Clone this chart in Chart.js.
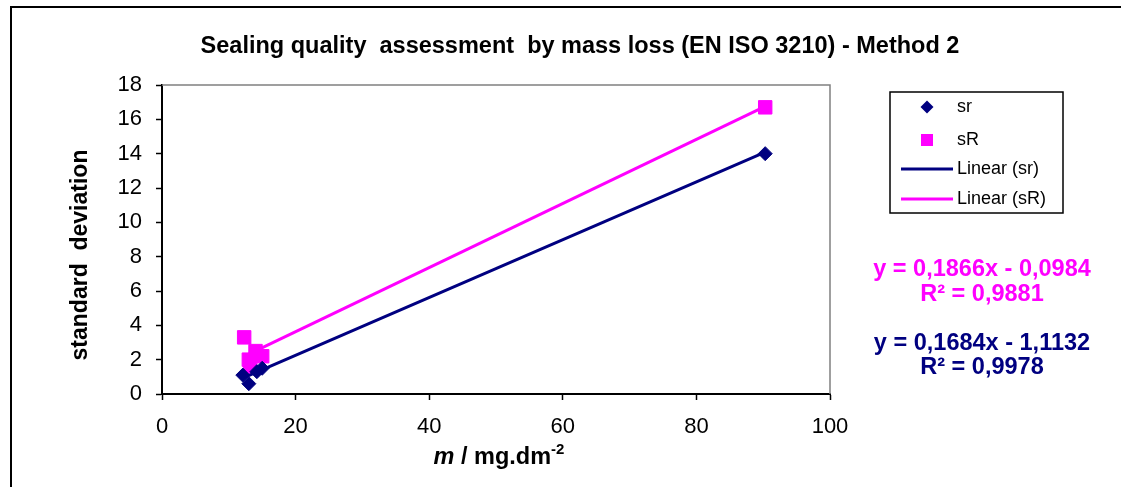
<!DOCTYPE html>
<html>
<head>
<meta charset="utf-8">
<script src="https://cdn.jsdelivr.net/npm/chart.js@4.4.0/dist/chart.umd.min.js"></script>
<style>
  html, body { margin: 0; padding: 0; background: #fff; }
  #wrap { position: relative; width: 1121px; height: 487px; }
</style>
</head>
<body>
<div id="wrap"><canvas id="chart"></canvas></div>
<script>
// measured points: repeatability (sr) and reproducibility (sR)
const srX = [12.1, 13.0, 14.2, 15.0, 90.3];
const srY = [1.1, 0.6, 1.3, 1.5, 14.0];
const sRX = [12.3, 13.0, 13.2, 14.0, 15.0, 90.3];
const sRY = [3.3, 2.0, 1.6, 2.5, 2.2, 16.7];

// linear trendlines, coefficients as printed
const srFit = { slope: 0.1684, intercept: -1.1132, eq: 'y = 0,1684x - 1,1132', r2: 'R\u00b2 = 0,9978' };
const sRFit = { slope: 0.1866, intercept: -0.0984, eq: 'y = 0,1866x - 0,0984', r2: 'R\u00b2 = 0,9881' };

const xTicks = [0, 20, 40, 60, 80, 100];
const yTicks = [0, 2, 4, 6, 8, 10, 12, 14, 16, 18];
const legendLabels = ['sr', 'sR', 'Linear (sr)', 'Linear (sR)'];

const NAVY = '#000080';
const PINK = '#FF00FF';
const FONT = '"Liberation Sans", Arial, sans-serif';

function toPoints(xs, ys) {
    return xs.map((x, i) => ({ x: x, y: ys[i] }));
}

function fitLine(xs, fit) {
    const lo = Math.min(...xs);
    const hi = Math.max(...xs);
    return [lo, hi].map(x => ({ x: x, y: fit.slope * x + fit.intercept }));
}

// everything that is not a data mark: frame, titles, legend box, equations
const decorations = {
    id: 'decorations',
    afterDraw(chart) {
        const ctx = chart.ctx;
        const a = chart.chartArea;
        ctx.save();

        // outer frame (left and top edges visible)
        ctx.strokeStyle = '#000';
        ctx.lineWidth = 2;
        ctx.beginPath();
        ctx.moveTo(11, 487);
        ctx.lineTo(11, 7);
        ctx.lineTo(1121, 7);
        ctx.stroke();

        // grey top and right edges of the plot area
        ctx.strokeStyle = '#808080';
        ctx.lineWidth = 1.5;
        ctx.beginPath();
        ctx.moveTo(a.left, a.top);
        ctx.lineTo(a.right, a.top);
        ctx.lineTo(a.right, a.bottom);
        ctx.stroke();

        // chart title
        ctx.fillStyle = '#000';
        ctx.font = 'bold 23.5px ' + FONT;
        ctx.textAlign = 'center';
        ctx.textBaseline = 'alphabetic';
        ctx.fillText('Sealing quality  assessment  by mass loss (EN ISO 3210) - Method 2', 580, 53);

        // y axis title
        ctx.save();
        ctx.translate(87, 255);
        ctx.rotate(-Math.PI / 2);
        ctx.font = 'bold 23px ' + FONT;
        ctx.fillText('standard  deviation', 0, 0);
        ctx.restore();

        // x axis title: italic m, units with superscript
        const partM = 'm';
        const partU = ' / mg.dm';
        const partS = '-2';
        ctx.textAlign = 'left';
        ctx.font = 'italic bold 23.5px ' + FONT;
        const wM = ctx.measureText(partM).width;
        ctx.font = 'bold 23.5px ' + FONT;
        const wU = ctx.measureText(partU).width;
        ctx.font = 'bold 15px ' + FONT;
        const wS = ctx.measureText(partS).width;
        let x = 499 - (wM + wU + wS) / 2;
        const base = 464;
        ctx.font = 'italic bold 23.5px ' + FONT;
        ctx.fillText(partM, x, base);
        x += wM;
        ctx.font = 'bold 23.5px ' + FONT;
        ctx.fillText(partU, x, base);
        x += wU;
        ctx.font = 'bold 15px ' + FONT;
        ctx.fillText(partS, x, base - 10);

        // legend box
        ctx.strokeStyle = '#000';
        ctx.lineWidth = 1.5;
        ctx.strokeRect(890, 92, 173, 121);
        const rows = [107, 140, 169, 199];
        ctx.font = '18px ' + FONT;
        ctx.textBaseline = 'middle';
        ctx.fillStyle = '#000';
        legendLabels.forEach((label, i) => ctx.fillText(label, 957, rows[i]));
        // marker samples
        ctx.fillStyle = NAVY;
        ctx.beginPath();
        ctx.moveTo(927 - 6.5, rows[0]);
        ctx.lineTo(927, rows[0] - 6.5);
        ctx.lineTo(927 + 6.5, rows[0]);
        ctx.lineTo(927, rows[0] + 6.5);
        ctx.closePath();
        ctx.fill();
        ctx.fillStyle = PINK;
        ctx.fillRect(921, rows[1] - 6, 12, 12);
        // line samples
        ctx.lineWidth = 3;
        ctx.strokeStyle = NAVY;
        ctx.beginPath();
        ctx.moveTo(901, rows[2]);
        ctx.lineTo(953, rows[2]);
        ctx.stroke();
        ctx.strokeStyle = PINK;
        ctx.beginPath();
        ctx.moveTo(901, rows[3]);
        ctx.lineTo(953, rows[3]);
        ctx.stroke();

        // trendline equations
        ctx.textAlign = 'center';
        ctx.textBaseline = 'alphabetic';
        ctx.font = 'bold 23.5px ' + FONT;
        ctx.fillStyle = PINK;
        ctx.fillText(sRFit.eq, 982, 276);
        ctx.fillText(sRFit.r2, 982, 301);
        ctx.fillStyle = NAVY;
        ctx.fillText(srFit.eq, 982, 350);
        ctx.fillText(srFit.r2, 982, 374);

        ctx.restore();
    }
};

const tickFont = { family: FONT, size: 22 };

new Chart(document.getElementById('chart'), {
    type: 'scatter',
    data: {
        datasets: [
            {
                label: 'Linear (sr)',
                data: fitLine(srX, srFit),
                showLine: true,
                borderColor: NAVY,
                borderWidth: 3,
                pointRadius: 0
            },
            {
                label: 'Linear (sR)',
                data: fitLine(sRX, sRFit),
                showLine: true,
                borderColor: PINK,
                borderWidth: 3,
                pointRadius: 0
            },
            {
                label: 'sr',
                data: toPoints(srX, srY),
                pointStyle: 'rectRot',
                pointRadius: 7,
                backgroundColor: NAVY,
                borderColor: NAVY,
                borderWidth: 1
            },
            {
                label: 'sR',
                data: toPoints(sRX, sRY),
                pointStyle: 'rect',
                pointRadius: 9.5,
                backgroundColor: PINK,
                borderColor: PINK,
                borderWidth: 1
            }
        ]
    },
    options: {
        responsive: true,
        maintainAspectRatio: false,
        animation: false,
        layout: { padding: { top: 85, right: 291, left: 0, bottom: 0 } },
        plugins: {
            legend: { display: false },
            tooltip: { enabled: false }
        },
        scales: {
            x: {
                type: 'linear',
                min: 0,
                max: 100,
                afterBuildTicks: scale => { scale.ticks = xTicks.map(v => ({ value: v })); },
                afterFit: scale => { scale.height = 93; },
                ticks: { color: '#000', font: tickFont, padding: 14, maxRotation: 0 },
                grid: { drawOnChartArea: false, color: '#000', tickLength: 6, tickWidth: 1.5 },
                border: { color: '#000', width: 2 }
            },
            y: {
                type: 'linear',
                min: 0,
                max: 18,
                afterBuildTicks: scale => { scale.ticks = yTicks.map(v => ({ value: v })); },
                afterFit: scale => { scale.width = 162; },
                ticks: { color: '#000', font: tickFont, padding: 14 },
                grid: { drawOnChartArea: false, color: '#000', tickLength: 6, tickWidth: 1.5 },
                border: { color: '#000', width: 2 }
            }
        }
    },
    plugins: [decorations]
});
</script>
</body>
</html>
